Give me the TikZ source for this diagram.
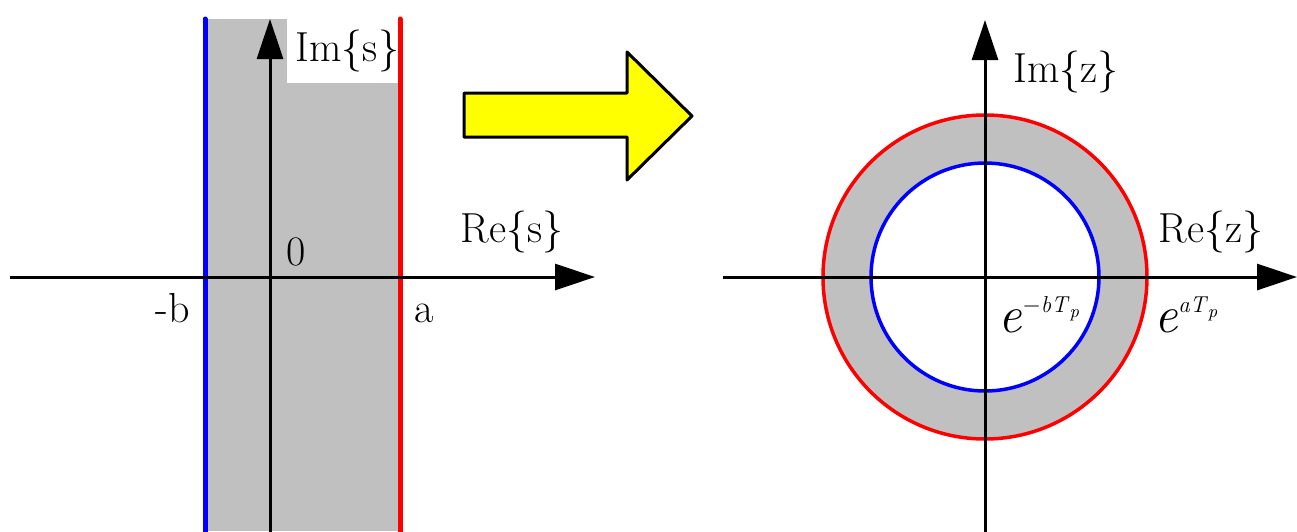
\documentclass[tikz,border=0pt]{standalone}
\usepackage{fontspec}
\usetikzlibrary{arrows.meta,positioning}
\definecolor{ink}{RGB}{0,0,0}
\definecolor{band}{RGB}{192,192,192}
\definecolor{lowedge}{RGB}{0,0,255}
\definecolor{highedge}{RGB}{255,0,0}
\definecolor{map}{RGB}{255,255,0}
\newcommand{\lblsize}{\fontsize{21}{24}\selectfont}
\newcommand{\expon}[1]{\fontsize{26}{30}\selectfont\textit{e}\raisebox{10pt}{\fontsize{11.5}{14}\selectfont #1}}
\newcommand{\subp}{\raisebox{-2.5pt}{\fontsize{9}{11}\selectfont\textit{p}}}
\tikzset{
  every picture/.style={x=0.5pt, y=-0.5pt, color=ink, line width=1.5pt},
  axis/.style={-{Triangle[length=20pt,width=13pt]}, line width=1.5pt, color=ink},
  edge/.style={line width=2.5pt, line cap=round},
  ring/.style={line width=1.75pt},
  lbl/.style={font=\lblsize, inner sep=0pt, anchor=base},
  val/.style={inner sep=0pt, anchor=base west},
  bigarrow/.style={draw=ink, fill=map, line width=1.5pt, line join=round},
}
\begin{document}
\begin{tikzpicture}
  \useasboundingbox (0,0) rectangle (1297,531);
  % s-plane
  \fill[band] (205,19) rectangle (400,531);
  \node[lbl, anchor=center, fill=white, text width=56pt, align=right, minimum height=32pt] (ims) at (343,51) {Im\{s\}};
  \coordinate (bn) at (205,19);
  \coordinate (bs) at (205,540);
  \coordinate (an) at (400,19);
  \coordinate (as) at (400,540);
  \draw[edge, lowedge] (bs) -- (bn);
  \draw[edge, highedge] (as) -- (an);
  \coordinate (sw) at (10,277);
  \coordinate (se) at (595,277);
  \coordinate (ss) at (270,535);
  \coordinate (sn) at (270,19);
  \draw[axis] (sw) -- (se);
  \draw[axis] (ss) -- (sn);
  \node[lbl] (res) at (512,242) {Re\{s\}};
  \node[lbl] (zero) at (296,265) {0};
  \node[lbl] (mb) at (173,322) {-b};
  \node[lbl] (pa) at (424,322) {a};
  % mapping
  \draw[bigarrow] (464,93) -- (627,93) -- (627,52) -- (692,116) -- (627,180) -- (627,137) -- (464,137) -- cycle;
  % z-plane
  \coordinate (o) at (985,277);
  \fill[band, even odd rule] (o) circle[radius=81pt] (o) circle[radius=57pt];
  \draw[ring, highedge] (o) circle[radius=81pt];
  \draw[ring, lowedge] (o) circle[radius=57pt];
  \coordinate (zw) at (723,277);
  \coordinate (ze) at (1297,277);
  \coordinate (zs) at (985,535);
  \coordinate (zn) at (985,20);
  \draw[axis] (zw) -- (ze);
  \draw[axis] (zs) -- (zn);
  \node[lbl] (imz) at (1066,82) {Im\{z\}};
  \node[lbl] (rez) at (1211,242) {Re\{z\}};
  \node[val] (inner) at (997,332) {\expon{$-$\textit{bT}\subp}};
  \node[val] (outer) at (1153,332) {\expon{\textit{aT}\subp}};
\end{tikzpicture}
\end{document}
